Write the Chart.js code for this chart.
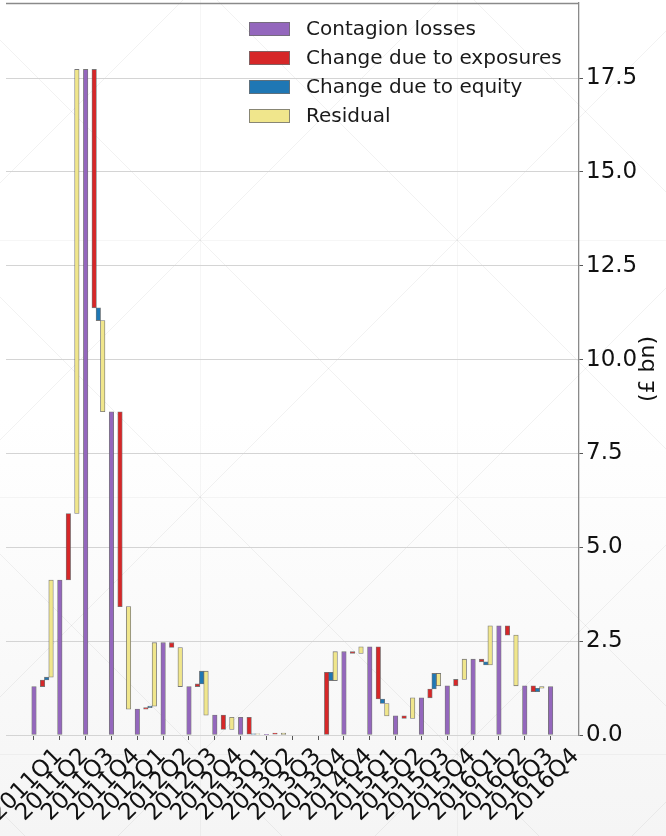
<!DOCTYPE html>
<html>
<head>
<meta charset="utf-8">
<script src="https://cdn.jsdelivr.net/npm/chart.js@4"></script>
<style>
  html, body { margin: 0; padding: 0; background: #fff; }
  canvas { display: block; }
</style>
</head>
<body>
<canvas id="chart" width="666" height="836"></canvas>
<script>
// Quarterly contagion losses (£ bn) and the drivers of change between consecutive quarters
const quarters = [
  '2011Q1', '2011Q2', '2011Q3', '2011Q4',
  '2012Q1', '2012Q2', '2012Q3', '2012Q4',
  '2013Q1', '2013Q2', '2013Q3', '2013Q4',
  '2014Q4',
  '2015Q1', '2015Q2', '2015Q3', '2015Q4',
  '2016Q1', '2016Q2', '2016Q3', '2016Q4'
];

const contagionLosses = [
  1.29, 4.13, 17.73, 8.61,
  0.69, 2.46, 1.29, 0.53,
  0.47, 0.02, 0.00, 0.00,
  2.22,
  2.35, 0.51, 0.99, 1.31,
  2.02, 2.91, 1.31, 1.29
];

// change from each quarter to the next one
const exposureChange = [
  0.175, 1.77, -6.35, -5.19,
  0.04, -0.13, 0.07, -0.38,
  -0.45, 0.03, 0.00, 1.67,
  -0.05,
  -1.39, -0.07, 0.235, 0.17,
  -0.07, -0.25, -0.155
];

const equityChange = [
  0.075, 0.00, -0.34, 0.00,
  0.04, 0.00, 0.34, 0.00,
  0.01, 0.00, 0.00, -0.22,
  0.00,
  -0.12, 0.00, 0.415, 0.00,
  -0.085, 0.00, 0.09
];

const residualChange = [
  2.59, 11.83, -2.43, -2.73,
  1.69, -1.04, -1.17, 0.32,
  -0.01, -0.05, 0.00, 0.77,
  0.18,
  -0.33, 0.55, -0.33, 0.54,
  1.045, -1.35, 0.045
];

const yTicks = [0, 2.5, 5, 7.5, 10, 12.5, 15, 17.5];

// horizontal slots of the step bars inside one quarter
const slot = { losses: 0, exposures: 0.33, equity: 0.49, residual: 0.66 };

// build waterfall segments: each driver floats from where the previous one ended
const lossBars = contagionLosses.map((v, i) => ({ x: i + slot.losses, y: [0, v] }));
const exposureBars = [], equityBars = [], residualBars = [];
exposureChange.forEach((d, i) => {
  const s0 = contagionLosses[i];
  const s1 = s0 + exposureChange[i];
  const s2 = s1 + equityChange[i];
  const s3 = s2 + residualChange[i];
  exposureBars.push({ x: i + slot.exposures, y: [s0, s1] });
  equityBars.push({ x: i + slot.equity, y: [s1, s2] });
  residualBars.push({ x: i + slot.residual, y: [s2, s3] });
});

Chart.defaults.font.family = "'DejaVu Sans', sans-serif";

const edge = 'rgba(85,85,85,0.8)';

// keep the plotting box fixed: no extra room reserved for overhanging labels
const noOverhang = s => {
  s.paddingLeft = 0; s.paddingRight = 0;
  s.paddingTop = 0; s.paddingBottom = 0;
};

// faint page backdrop: soft bottom shading and a diagonal lattice
const backdrop = {
  id: 'backdrop',
  beforeDraw(chart) {
    const { ctx, width, height } = chart;
    ctx.save();
    const g = ctx.createLinearGradient(0, 0, 0, height);
    g.addColorStop(0, '#ffffff');
    g.addColorStop(0.5, '#ffffff');
    g.addColorStop(1, '#f5f5f5');
    ctx.fillStyle = g;
    ctx.fillRect(0, 0, width, height);
    ctx.strokeStyle = 'rgba(0,0,0,0.035)';
    ctx.lineWidth = 1;
    const step = 257;
    const ox = 200, oy = 240;
    ctx.beginPath();
    for (let k = -3; k <= 3; k++) {
      const x = ox + k * step + 0.5;
      if (x > 0 && x < width) { ctx.moveTo(x, 0); ctx.lineTo(x, height); }
      const y = oy + k * step + 0.5;
      if (y > 0 && y < height) { ctx.moveTo(0, y); ctx.lineTo(width, y); }
    }
    ctx.stroke();
    ctx.strokeStyle = 'rgba(0,0,0,0.05)';
    ctx.beginPath();
    for (let k = -6; k <= 6; k++) {
      const c1 = (oy - ox) + k * step;       // y = x + c1
      ctx.moveTo(-10, -10 + c1); ctx.lineTo(width + 10, width + 10 + c1);
      const c2 = (oy + ox) + k * step;       // y = -x + c2
      ctx.moveTo(-10, 10 + c2); ctx.lineTo(width + 10, -width - 10 + c2);
    }
    ctx.stroke();
    ctx.restore();
  }
};

// top spine of the plotting frame
const topFrame = {
  id: 'topFrame',
  afterDraw(chart) {
    const { ctx, chartArea: a } = chart;
    ctx.save();
    ctx.strokeStyle = '#8a8a8a';
    ctx.lineWidth = 1.3;
    ctx.beginPath();
    ctx.moveTo(a.left, a.top + 0.5);
    ctx.lineTo(a.right, a.top + 0.5);
    ctx.stroke();
    ctx.restore();
  }
};

// legend inside the plotting area
const boxLegend = {
  id: 'boxLegend',
  afterDatasetsDraw(chart) {
    const { ctx, chartArea: a } = chart;
    ctx.save();
    ctx.font = "20px 'DejaVu Sans', sans-serif";
    ctx.textBaseline = 'middle';
    ctx.textAlign = 'left';
    chart.data.datasets.forEach((ds, i) => {
      const bx = a.left + 243, by = a.top + 19 + i * 29;
      ctx.fillStyle = ds.backgroundColor;
      ctx.fillRect(bx, by, 41, 14);
      ctx.strokeStyle = 'rgba(110,110,110,0.8)';
      ctx.lineWidth = 1;
      ctx.strokeRect(bx + 0.5, by + 0.5, 40, 13);
      ctx.fillStyle = '#1a1a1a';
      ctx.fillText(ds.label, a.left + 300, by + 8);
    });
    ctx.restore();
  }
};

// value axis title, reading upwards, right of the tick labels
const yTitle = {
  id: 'yTitle',
  afterDraw(chart) {
    const { ctx, chartArea: a } = chart;
    ctx.save();
    ctx.translate(648, (a.top + a.bottom) / 2);
    ctx.rotate(-Math.PI / 2);
    ctx.font = "22px 'DejaVu Sans', sans-serif";
    ctx.fillStyle = '#111';
    ctx.textAlign = 'center';
    ctx.textBaseline = 'middle';
    ctx.fillText('(£ bn)', 0, 0);
    ctx.restore();
  }
};

new Chart(document.getElementById('chart'), {
  type: 'bar',
  data: {
    datasets: [
      { label: 'Contagion losses', data: lossBars, backgroundColor: '#9467bd' },
      { label: 'Change due to exposures', data: exposureBars, backgroundColor: '#d62728' },
      { label: 'Change due to equity', data: equityBars, backgroundColor: '#1f77b4' },
      { label: 'Residual', data: residualBars, backgroundColor: '#f0e68c' }
    ]
  },
  options: {
    responsive: false,
    animation: false,
    devicePixelRatio: 1,
    layout: { padding: { left: 6, top: 3, right: 0, bottom: 0 } },
    datasets: {
      bar: {
        grouped: false,
        barThickness: 4.5,
        borderWidth: 0.8,
        borderColor: edge,
        borderSkipped: false
      }
    },
    plugins: {
      legend: { display: false },
      tooltip: { enabled: false }
    },
    scales: {
      x: {
        type: 'linear',
        offset: false,
        min: -1.084,
        max: 21.1,
        afterBuildTicks: s => { s.ticks = quarters.map((_, i) => ({ value: i })); },
        afterFit: s => { s.height = 101; noOverhang(s); },
        ticks: {
          autoSkip: false,
          minRotation: 45,
          maxRotation: 45,
          labelOffset: 25,
          padding: 3,
          color: '#111',
          font: { size: 23 },
          callback: v => quarters[v]
        },
        grid: { offset: false, drawOnChartArea: false, drawTicks: true, tickLength: 5, tickColor: '#555' },
        border: { display: false }
      },
      y: {
        position: 'right',
        min: 0,
        max: 19.5,
        afterBuildTicks: s => { s.ticks = yTicks.map(v => ({ value: v })); },
        afterFit: s => { s.width = 87; noOverhang(s); },
        ticks: {
          padding: 3,
          color: '#111',
          font: { size: 23 },
          callback: v => v.toFixed(1)
        },
        grid: { color: '#d4d4d4', lineWidth: 1, drawTicks: true, tickLength: 4, tickColor: '#555' },
        border: { display: true, color: '#8a8a8a', width: 1.3 }
      }
    }
  },
  plugins: [backdrop, topFrame, boxLegend, yTitle]
});
</script>
</body>
</html>
